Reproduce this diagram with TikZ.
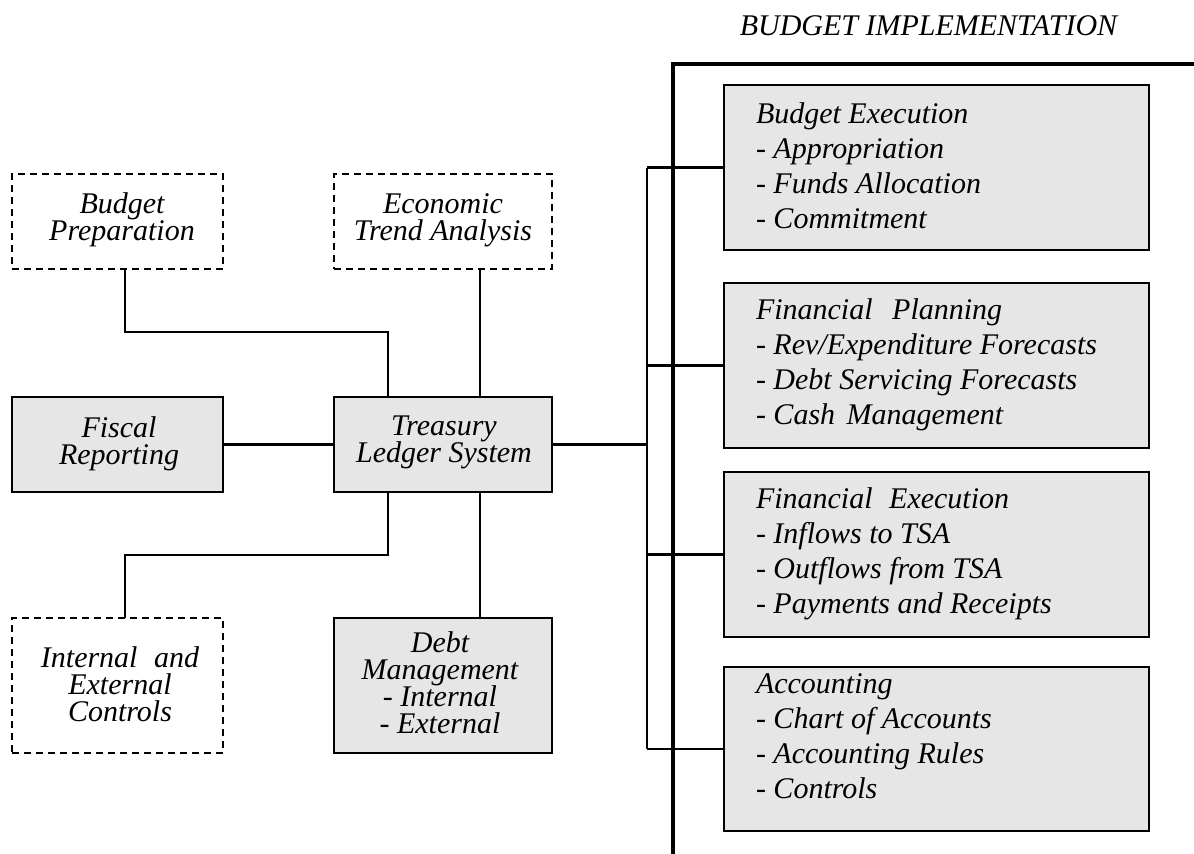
\documentclass[tikz,border=0pt]{standalone}
\usepackage{fontspec}
\setmainfont{Liberation Serif}
\definecolor{boxfill}{RGB}{230,230,230}
\newcommand\mltext[3]{\vtop{\baselineskip=#1\lineskiplimit=-100pt\lineskip=0pt\halign{#2##\hfil\cr#3\crcr}}}
\begin{document}
\begin{tikzpicture}[x=1pt,y=-1pt,
  every node/.style={inner sep=0pt,outer sep=0pt},
  solidbox/.style={draw,line width=2.8pt,fill=boxfill,minimum width=#1},
  dashbox/.style={draw,line width=2.8pt,dash pattern=on 7pt off 5pt,minimum width=#1},
  rightbox/.style={draw,line width=2.8pt,fill=boxfill,minimum width=425pt},
  ctext/.style={font=\fontsize{30}{27}\selectfont\itshape,anchor=base},
  ltext/.style={font=\fontsize{30}{35}\selectfont\itshape,anchor=base west},
  conn/.style={line width=1.6pt},
  connthick/.style={line width=2.5pt},
  bus/.style={line width=2.2pt}
]
\useasboundingbox (0,0) rectangle (1194,854);

% title and bracket
\node[font=\fontsize{30}{36}\selectfont\itshape,anchor=base] (title) at (928.5,35) {BUDGET IMPLEMENTATION};
\draw[line width=4pt] (673,856) -- (673,64) -- (1196,64);

% left and centre boxes
\node[dashbox=211pt,minimum height=95pt] (bp) at (117.5,221.5) {};
\node[dashbox=218pt,minimum height=95pt] (eta) at (443,221.5) {};
\node[solidbox=211pt,minimum height=95pt] (fr) at (117.5,444.5) {};
\node[solidbox=218pt,minimum height=95pt] (tls) at (443,444.5) {};
\node[dashbox=211pt,minimum height=135pt] (iec) at (117.5,685.5) {};
\node[solidbox=218pt,minimum height=135pt] (dm) at (443,685.5) {};

% right boxes
\node[rightbox,minimum height=165pt] (be) at (936.5,167.5) {};
\node[rightbox,minimum height=165pt] (fp) at (936.5,365.5) {};
\node[rightbox,minimum height=165pt] (fe) at (936.5,554.5) {};
\node[rightbox,minimum height=164pt] (ac) at (936.5,749) {};

% texts
\node[ctext] (bpt) at (122,213) {\mltext{27pt}{\hfil}{Budget\cr Preparation}};
\node[ctext] (etat) at (443,213) {\mltext{27pt}{\hfil}{Economic\cr Trend Analysis}};
\node[ctext] (frt) at (119,437) {\mltext{27pt}{\hfil}{Fiscal\cr Reporting}};
\node[ctext] (tlst) at (444,435) {\mltext{27pt}{\hfil}{Treasury\cr Ledger System}};
\node[ctext] (iect) at (120,667) {\mltext{27pt}{\hfil}{Internal\hspace{9pt} and\cr External\cr Controls}};
\node[ctext] (dmt) at (440,652) {\mltext{27pt}{\hfil}{Debt\cr Management\cr - Internal\cr - External}};

\node[ltext] (bet) at (756,123) {\mltext{35pt}{}{Budget Execution\cr - Appropriation\cr - Funds Allocation\cr - Commitment}};
\node[ltext] (fpt) at (756,319) {\mltext{35pt}{}{Financial\hspace{12pt} Planning\cr - Rev/Expenditure Forecasts\cr - Debt Servicing Forecasts\cr - Cash\hspace{4pt} Management}};
\node[ltext] (fet) at (756,508) {\mltext{35pt}{}{Financial\hspace{9pt} Execution\cr - Inflows to TSA\cr - Outflows from TSA\cr - Payments and Receipts}};
\node[ltext] (act) at (756,693) {\mltext{35pt}{}{Accounting\cr - Chart of Accounts\cr - Accounting Rules\cr - Controls}};

% connectors
\draw[conn] ([xshift=7.5pt]bp.south) -- ++(0,63) -| ([xshift=-55pt]tls.north);
\draw[conn] ([xshift=37pt]eta.south) -- ([xshift=37pt]tls.north);
\draw[connthick] (fr.east) -- (tls.west);
\draw[conn] ([xshift=-55pt]tls.south) -- ++(0,63) -| ([xshift=7.5pt]iec.north);
\draw[conn] ([xshift=37pt]tls.south) -- ([xshift=37pt]dm.north);
\draw[connthick] (tls.east) -- ++(95,0) coordinate (hub);
\draw[bus] (hub |- be.west) -- (hub |- ac.west);
\foreach \b in {be,fp,fe,ac} \draw[bus] (hub |- \b.west) -- (\b.west);
\end{tikzpicture}
\end{document}
